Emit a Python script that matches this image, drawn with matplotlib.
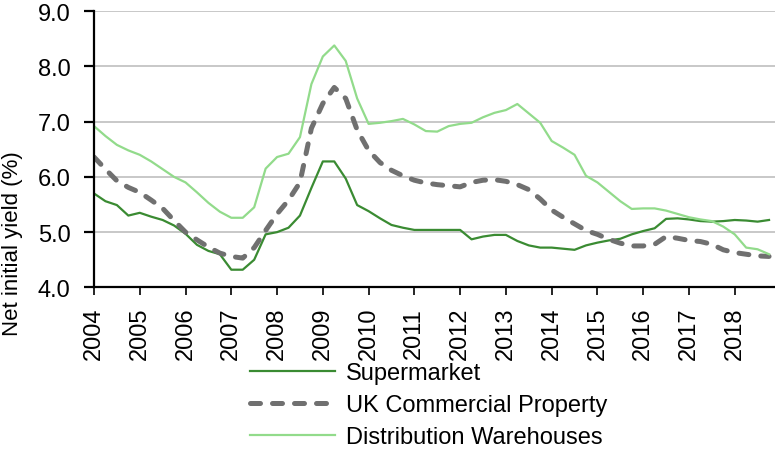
# yield_chart.py

import numpy as np
import matplotlib
matplotlib.use("Agg")
import matplotlib.pyplot as plt

plt.rcParams['font.family'] = ['Liberation Sans', 'DejaVu Sans']

# quarterly net initial yields (%), 2004 Q1 .. 2018 Q4
start_year = 2004
supermarket = [5.70, 5.56, 5.49, 5.30,
               5.35, 5.28, 5.22, 5.12,
               4.97, 4.77, 4.66, 4.60,
               4.32, 4.32, 4.50, 4.96,
               5.00, 5.08, 5.30, 5.80,
               6.28, 6.28, 5.97, 5.49,
               5.38, 5.25, 5.13, 5.08,
               5.04, 5.04, 5.04, 5.04,
               5.04, 4.87, 4.92, 4.95,
               4.95, 4.84, 4.76, 4.72,
               4.72, 4.70, 4.68, 4.76,
               4.81, 4.85, 4.88, 4.96,
               5.02, 5.07, 5.24, 5.25,
               5.23, 5.20, 5.19, 5.20,
               5.22, 5.21, 5.19, 5.22]
uk_commercial = [6.36, 6.14, 5.93, 5.81,
                 5.72, 5.58, 5.43, 5.21,
                 5.00, 4.86, 4.73, 4.62,
                 4.56, 4.53, 4.72, 5.03,
                 5.33, 5.58, 5.90, 6.88,
                 7.33, 7.62, 7.42, 6.85,
                 6.48, 6.26, 6.12, 6.02,
                 5.94, 5.89, 5.86, 5.84,
                 5.82, 5.90, 5.94, 5.95,
                 5.92, 5.86, 5.77, 5.60,
                 5.40, 5.27, 5.15, 5.03,
                 4.96, 4.87, 4.80, 4.75,
                 4.75, 4.78, 4.92, 4.89,
                 4.85, 4.83, 4.78, 4.68,
                 4.63, 4.60, 4.57, 4.56]
distribution = [6.92, 6.74, 6.58, 6.48,
                6.40, 6.28, 6.14, 6.00,
                5.90, 5.72, 5.53, 5.37,
                5.26, 5.26, 5.45, 6.15,
                6.36, 6.42, 6.72, 7.68,
                8.18, 8.38, 8.10, 7.42,
                6.96, 6.98, 7.01, 7.05,
                6.95, 6.83, 6.82, 6.92,
                6.96, 6.98, 7.08, 7.16,
                7.21, 7.32, 7.15, 6.98,
                6.65, 6.53, 6.40, 6.02,
                5.90, 5.73, 5.56, 5.42,
                5.43, 5.43, 5.39, 5.33,
                5.27, 5.23, 5.20, 5.10,
                4.96, 4.72, 4.69, 4.60]
years = list(range(2004, 2019))
yticks = [4.0, 5.0, 6.0, 7.0, 8.0, 9.0]

t = start_year + np.arange(len(supermarket)) / 4.0

fig = plt.figure(figsize=(7.75, 4.52), dpi=100)
ax = fig.add_axes([0.1213, 0.362, 0.8787, 0.611])

ax.plot(t, supermarket, color='#3a8b32', lw=1.6, label='Supermarket')
ax.plot(t, uk_commercial, color='#707070', lw=3.6, dashes=(2.0, 2.4),
        dash_capstyle='round', label='UK Commercial Property')
ax.plot(t, distribution, color='#92db8b', lw=1.6, label='Distribution Warehouses')

ax.set_xlim(2004, 2018.88)
ax.set_ylim(4, 9)
ax.set_yticks(yticks)
ax.set_yticklabels(['%.1f' % v for v in yticks])
ax.set_xticks(years)
ax.set_xticklabels([str(y) for y in years], rotation=90)
ax.grid(axis='y', color='#c4c4c4', lw=1.3)
ax.set_axisbelow(True)

for s in ['top', 'right']:
    ax.spines[s].set_visible(False)
for s in ['left', 'bottom']:
    ax.spines[s].set_linewidth(1.6)
ax.tick_params(axis='y', length=7, width=1.6, pad=10, labelsize=17)
ax.tick_params(axis='x', length=6, width=1.2, pad=8, labelsize=17)

fig.text(0.016, 0.462, 'Net initial yield (%)', rotation=90, fontsize=16,
         ha='center', va='center')

fig.legend(loc='upper left', bbox_to_anchor=(0.323, 0.196), frameon=False,
           fontsize=17, handlelength=3.6, handletextpad=0.45,
           labelspacing=0.42, borderpad=0, borderaxespad=0)

fig.savefig('out.png', dpi=100)
